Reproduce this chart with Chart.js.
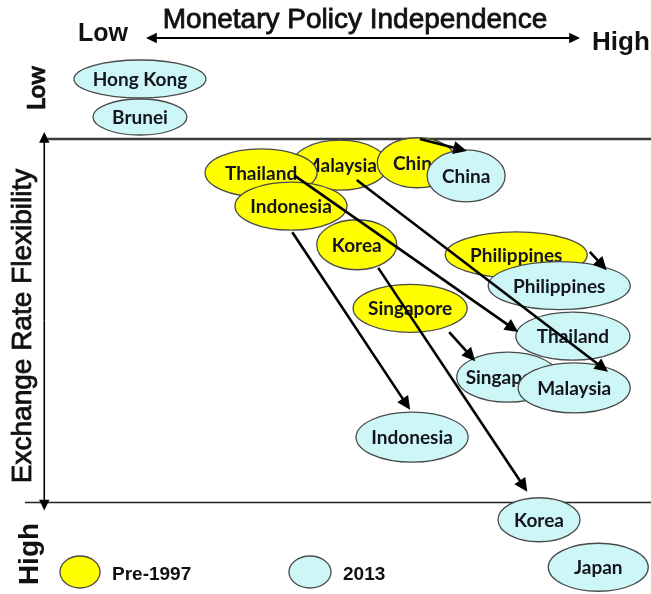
<!DOCTYPE html>
<html>
<head>
<meta charset="utf-8">
<script src="https://cdn.jsdelivr.net/npm/chart.js@4.4.1/dist/chart.umd.min.js"></script>
<style>
  body { margin: 0; background: #fff; }
  #wrap { width: 651px; height: 594px; }
</style>
</head>
<body>
<div id="wrap"><canvas id="policyChart" width="651" height="594"></canvas></div>
<script>
// Both axes run 0..100 over the whole picture.
// x = monetary policy independence (low -> high), y = exchange rate flexibility (low at top -> high at bottom)
const countriesPre = ["Malaysia", "Thailand", "Indonesia", "China", "Korea", "Philippines", "Singapore"];
const preX = [52.2, 40.1, 44.7, 64.1, 54.8, 79.3, 63.0];
const preY = [27.8, 29.1, 34.7, 27.4, 41.2, 42.9, 51.9];

const countries2013 = ["China", "Philippines", "Thailand", "Singapore", "Malaysia", "Indonesia", "Korea", "Japan", "Hong Kong", "Brunei"];
const x2013 = [71.6, 85.9, 88.0, 78.0, 88.2, 63.3, 82.8, 91.9, 21.5, 21.5];
const y2013 = [29.6, 48.1, 56.6, 63.5, 65.3, 73.6, 87.5, 95.5, 13.3, 19.7];

// moves drawn as arrows: [fromX, fromY, toX, toY]
const moves = [
  [64.5, 23.4, 71.7, 25.4],   // China
  [45.3, 29.6, 79.6, 55.9],   // Thailand
  [54.8, 30.3, 93.4, 62.6],   // Malaysia
  [90.6, 42.4, 93.2, 45.5],   // Philippines
  [44.9, 39.1, 63.0, 69.0],   // Indonesia
  [58.1, 45.1, 81.0, 82.8],   // Korea
  [69.0, 55.9, 73.0, 60.8]    // Singapore
];

// frame: top line, bottom line, vertical axis
const frameTop = 23.4, frameBottom = 84.6, frameLeft = 6.8;

// ellipse half-sizes in px
const sizePre = {
  Malaysia: [48, 25], Thailand: [56, 24], Indonesia: [56, 24], China: [40, 25],
  Korea: [40, 25], Philippines: [71, 23], Singapore: [57, 24]
};
const size2013 = {
  China: [39, 26], Philippines: [71, 24], Thailand: [57, 24], Singapore: [51, 25],
  Malaysia: [56, 25], Indonesia: [56, 25], Korea: [41, 22], Japan: [50, 24],
  "Hong Kong": [66, 19], Brunei: [47, 18]
};

const yellow = "#ffff00";
const cyan = "#cdf6f6";
const labelFont = "bold 19px Lato, 'Open Sans', sans-serif";

function drawEllipse(ctx, x, y, rx, ry, fill, label) {
  ctx.beginPath();
  ctx.ellipse(x, y, rx, ry, 0, 0, Math.PI * 2);
  ctx.fillStyle = fill;
  ctx.fill();
  ctx.lineWidth = 1.3;
  ctx.strokeStyle = "#4a4a4a";
  ctx.stroke();
  if (label) {
    ctx.fillStyle = "#15151f";
    ctx.font = labelFont;
    ctx.textAlign = "center";
    ctx.textBaseline = "middle";
    ctx.fillText(label, x, y + 1);
  }
}

function drawArrow(ctx, x1, y1, x2, y2, width, head) {
  const a = Math.atan2(y2 - y1, x2 - x1);
  ctx.strokeStyle = "#000";
  ctx.fillStyle = "#000";
  ctx.lineWidth = width;
  ctx.beginPath();
  ctx.moveTo(x1, y1);
  ctx.lineTo(x2 - Math.cos(a) * head * 0.8, y2 - Math.sin(a) * head * 0.8);
  ctx.stroke();
  ctx.beginPath();
  ctx.moveTo(x2, y2);
  ctx.lineTo(x2 - head * Math.cos(a - 0.45), y2 - head * Math.sin(a - 0.45));
  ctx.lineTo(x2 - head * Math.cos(a + 0.45), y2 - head * Math.sin(a + 0.45));
  ctx.closePath();
  ctx.fill();
}

function drawText(ctx, text, x, y, font, align, rotate, heavy) {
  ctx.save();
  ctx.translate(x, y);
  if (rotate) ctx.rotate(-Math.PI / 2);
  ctx.font = font;
  ctx.fillStyle = "#111";
  ctx.textAlign = align;
  ctx.textBaseline = "middle";
  ctx.fillText(text, 0, 0);
  if (heavy) {
    // thicken regular weight a little
    ctx.strokeStyle = "#111";
    ctx.lineWidth = heavy;
    ctx.strokeText(text, 0, 0);
  }
  ctx.restore();
}

const diagramPlugin = {
  id: "diagram",
  afterDatasetsDraw(chart) {
    const ctx = chart.ctx;
    const xs = chart.scales.x, ys = chart.scales.y;
    const right = chart.chartArea.right;
    const yTop = ys.getPixelForValue(frameTop);
    const yBot = ys.getPixelForValue(frameBottom);
    const xAxis = xs.getPixelForValue(frameLeft);

    ctx.save();
    // frame lines
    ctx.strokeStyle = "#3a3a3a";
    ctx.lineWidth = 2.5;
    ctx.beginPath(); ctx.moveTo(xAxis, yTop); ctx.lineTo(right, yTop); ctx.stroke();
    ctx.strokeStyle = "#222";
    ctx.lineWidth = 1.6;
    ctx.beginPath(); ctx.moveTo(25, yBot); ctx.lineTo(right, yBot); ctx.stroke();
    // vertical double arrow
    drawArrow(ctx, xAxis, (yTop + yBot) / 2, xAxis, yTop - 7, 1.6, 12);
    drawArrow(ctx, xAxis, (yTop + yBot) / 2, xAxis, yBot + 8, 1.6, 12);
    // horizontal double arrow under the title
    drawArrow(ctx, 360, 38, 146, 38, 2, 12);
    drawArrow(ctx, 360, 38, 580, 38, 2, 12);

    // ellipses, pre-1997 first, then 2013
    const metaPre = chart.getDatasetMeta(0);
    metaPre.data.forEach((pt, i) => {
      const c = countriesPre[i];
      drawEllipse(ctx, pt.x, pt.y, sizePre[c][0], sizePre[c][1], yellow, c);
    });
    const meta13 = chart.getDatasetMeta(1);
    meta13.data.forEach((pt, i) => {
      const c = countries2013[i];
      drawEllipse(ctx, pt.x, pt.y, size2013[c][0], size2013[c][1], cyan, c);
    });

    // arrows showing the move
    moves.forEach(m => {
      drawArrow(ctx, xs.getPixelForValue(m[0]), ys.getPixelForValue(m[1]),
        xs.getPixelForValue(m[2]), ys.getPixelForValue(m[3]), 2.6, 15);
    });

    // titles
    drawText(ctx, "Monetary Policy Independence", 355, 20, "28px 'Liberation Sans', Arial, sans-serif", "center", false, 0.8);
    drawText(ctx, "Low", 78, 34, "bold 25px 'Liberation Sans', Arial, sans-serif", "left");
    drawText(ctx, "High", 592, 43, "bold 26px 'Liberation Sans', Arial, sans-serif", "left");
    drawText(ctx, "Low", 37, 88, "bold 24px Lato, sans-serif", "center", true, 0.6);
    drawText(ctx, "Exchange Rate Flexibility", 23, 326, "28px 'Liberation Sans', Arial, sans-serif", "center", true, 0.8);
    drawText(ctx, "High", 30, 554, "bold 28px 'Liberation Sans', Arial, sans-serif", "center", true);

    // legend
    drawEllipse(ctx, 80, 572, 20, 16, yellow);
    drawText(ctx, chart.data.datasets[0].label, 112, 575, "bold 19px 'Liberation Sans', Arial, sans-serif", "left");
    drawEllipse(ctx, 310, 572, 21, 16, cyan);
    drawText(ctx, chart.data.datasets[1].label, 343, 575, "bold 19px 'Liberation Sans', Arial, sans-serif", "left");
    ctx.restore();
  }
};

new Chart(document.getElementById("policyChart"), {
  type: "scatter",
  data: {
    datasets: [
      { label: "Pre-1997", data: preX.map((x, i) => ({ x: x, y: preY[i] })), pointRadius: 0 },
      { label: "2013", data: x2013.map((x, i) => ({ x: x, y: y2013[i] })), pointRadius: 0 }
    ]
  },
  options: {
    responsive: false,
    animation: false,
    layout: { padding: 0 },
    plugins: { legend: { display: false }, tooltip: { enabled: false } },
    scales: {
      x: { type: "linear", min: 0, max: 100, display: false },
      y: { type: "linear", min: 0, max: 100, reverse: true, display: false }
    }
  },
  plugins: [diagramPlugin]
});
</script>
</body>
</html>
